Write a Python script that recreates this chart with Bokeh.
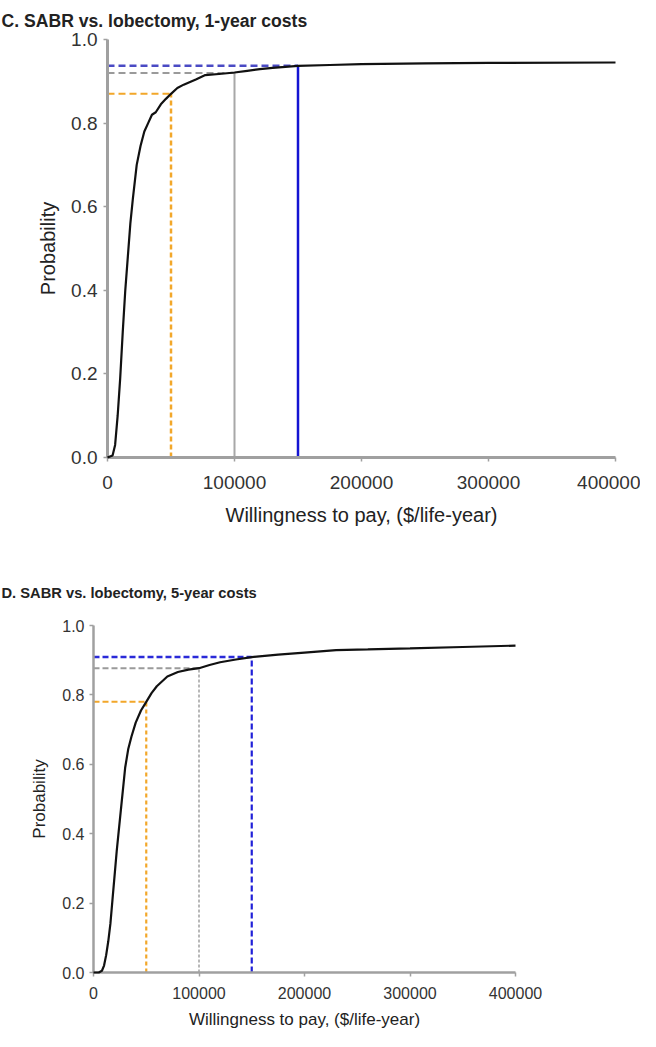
from bokeh.plotting import figure
from bokeh.models import Range1d, FixedTicker, Title, PrintfTickFormatter
from bokeh.embed import file_html
from bokeh.resources import INLINE

# ---------------- data ----------------
titles = ["C.  SABR vs. lobectomy, 1-year costs", "D.  SABR vs. lobectomy, 5-year costs"]
x_label = "Willingness to pay, ($/life-year)"
y_label = "Probability"
x_ticks = [0, 100000, 200000, 300000, 400000]
y_ticks = [0.0, 0.2, 0.4, 0.6, 0.8, 1.0]

wtp_1yr = [0, 4000, 6000, 8000, 10000, 12000, 14000, 16000, 18000, 20000, 23000,
           26000, 29000, 32000, 35000, 38000, 42000, 46000, 50000, 55000, 60000, 70000,
           77000, 90000, 100000, 110000, 120000, 130000, 150000, 175000, 200000,
           250000, 300000, 400000]
prob_1yr = [0.0, 0.005, 0.03, 0.10, 0.19, 0.30, 0.40, 0.48, 0.56, 0.62, 0.70,
            0.745, 0.78, 0.80, 0.82, 0.826, 0.845, 0.858, 0.87, 0.884, 0.892, 0.905,
            0.915, 0.918, 0.921, 0.925, 0.929, 0.932, 0.937, 0.939, 0.941,
            0.943, 0.944, 0.945]

wtp_5yr = [0, 5000, 8000, 10000, 12000, 14000, 16000, 18000, 20000, 22000, 24000,
           26000, 28000, 30000, 33000, 36000, 40000, 45000, 50000, 55000, 60000,
           70000, 80000, 90000, 100000, 110000, 120000, 135000, 150000, 175000,
           200000, 230000, 260000, 300000, 350000, 400000]
prob_5yr = [0.0, 0.0, 0.005, 0.02, 0.05, 0.09, 0.14, 0.21, 0.28, 0.35, 0.41,
            0.47, 0.53, 0.59, 0.645, 0.68, 0.72, 0.755, 0.78, 0.805, 0.825,
            0.853, 0.866, 0.873, 0.877, 0.886, 0.894, 0.902, 0.909, 0.916,
            0.922, 0.929, 0.931, 0.934, 0.938, 0.942]

thresholds = [50000, 100000, 150000]
thresh_prob_1yr = [0.87, 0.92, 0.937]
thresh_prob_5yr = [0.78, 0.877, 0.909]

FONT = "Liberation Sans"


def make_panel(title, wtp, prob, tprob, width, height, borders, fs, styles, title_fs,
               title_standoff, title_offset, axis_w):
    bl, br, bt, bb = borders
    p = figure(width=width, height=height, output_backend="svg", toolbar_location=None,
               x_range=Range1d(0, 400000), y_range=Range1d(0, 1),
               min_border_left=bl, min_border_right=br, min_border_top=bt,
               min_border_bottom=bb)
    p.title = None
    t = Title(text=title, align="left", text_font=FONT, text_font_size=f"{title_fs}px",
              text_font_style="bold", text_color="#222222", standoff=title_standoff,
              offset=title_offset)
    p.add_layout(t, "above")
    p.outline_line_color = None
    p.xgrid.visible = False
    p.ygrid.visible = False
    p.background_fill_color = "white"
    p.border_fill_color = "white"

    # threshold guide lines
    for (thr, pr, st) in zip(thresholds, tprob, styles):
        hcol, hdash, hw, vcol, vdash, vw = st
        p.line([0, thr], [pr, pr], line_color=hcol, line_dash=hdash, line_width=hw)
        p.line([thr, thr], [0, pr], line_color=vcol, line_dash=vdash, line_width=vw)

    p.line(wtp, prob, line_color="#111111", line_width=2.2, level="overlay")

    for ax in (p.xaxis[0], p.yaxis[0]):
        ax.axis_line_color = "#a0a0a0"
        ax.axis_line_width = axis_w
        ax.major_tick_line_color = "#a0a0a0"
        ax.major_tick_line_width = 1.5
        ax.major_tick_out = 4
        ax.major_tick_in = 0
        ax.minor_tick_line_color = None
        ax.major_label_text_font = FONT
        ax.major_label_text_font_size = f"{fs}px"
        ax.major_label_text_color = "#333333"
        ax.axis_label_text_font = FONT
        ax.axis_label_text_font_size = f"{fs + 1}px"
        ax.axis_label_text_font_style = "normal"
        ax.axis_label_text_color = "#222222"
    p.xaxis[0].ticker = FixedTicker(ticks=x_ticks)
    p.yaxis[0].ticker = FixedTicker(ticks=y_ticks)
    p.xaxis[0].formatter = PrintfTickFormatter(format="%d")
    p.yaxis[0].formatter = PrintfTickFormatter(format="%.1f")
    p.xaxis[0].axis_label = x_label
    p.yaxis[0].axis_label = y_label
    return p


orange = "#f2a72a"
gray = "#9a9a9a"
top_styles = [
    (orange, "7 4", 2, orange, "5 3", 2.5),
    (gray, "7 4", 2, "#a8a8a8", "solid", 2),
    ("#4a4ac4", "7 4", 2.5, "#1414d2", "solid", 2.5),
]
bot_styles = [
    (orange, "6 3", 2, orange, "4 3", 2.2),
    (gray, "6 3", 2, "#a0a0a0", "3 2", 1.5),
    ("#2a2ad8", "6 3", 2.5, "#2020d8", "6 3", 2.2),
]

top = make_panel(titles[0], wtp_1yr, prob_1yr, thresh_prob_1yr, 640, 556,
                 (107, 25, 39, 99), 19, top_styles, 17.6, 17, -106, 3)
top.xaxis[0].major_label_standoff = 14
top.xaxis[0].axis_label_standoff = 12
top.yaxis[0].major_label_standoff = 6
top.yaxis[0].axis_label_standoff = 9

bot = make_panel(titles[1], wtp_5yr, prob_5yr, thresh_prob_5yr, 640, 475,
                 (93, 125, 69, 56), 16, bot_styles, 14.7, 50, -92, 2.5)
bot.xaxis[0].major_label_standoff = 10
bot.xaxis[0].axis_label_standoff = 8
bot.yaxis[0].major_label_standoff = 5
bot.yaxis[0].axis_label_standoff = 10

open("out.html", "w").write(file_html([top, bot], INLINE))
